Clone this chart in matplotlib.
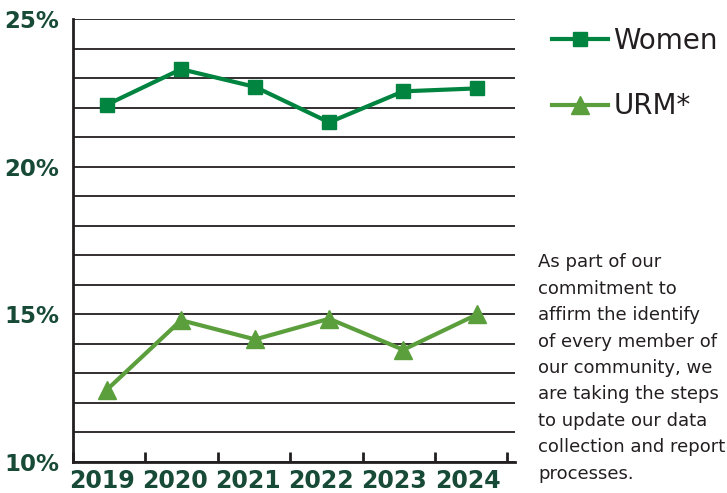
import matplotlib.pyplot as plt
from matplotlib.ticker import MultipleLocator, FixedLocator

years = ['2019', '2020', '2021', '2022', '2023', '2024']
women = [22.1, 23.3, 22.7, 21.5, 22.55, 22.65]
urm = [12.45, 14.8, 14.15, 14.85, 13.8, 15.0]
y_labels = ['10%', '15%', '20%', '25%']
note = ("As part of our\ncommitment to\naffirm the identify\nof every member of\n"
        "our community, we\nare taking the steps\nto update our data\n"
        "collection and report\nprocesses.")

women_color = '#00843f'
urm_color = '#5b9f3c'
label_color = '#174a37'

fig = plt.figure(figsize=(7.27, 4.93), dpi=100)
ax = fig.add_axes([0.1004, 0.0629, 0.6074, 0.8986])

# points sit a bit off the tick centres in the original
xpos = [0.47 + i * 1.023 for i in range(len(years))]
lpos = [0.4 + i * 1.01 for i in range(len(years))]
ax.plot(xpos, women, color=women_color, lw=3, marker='s', ms=10, label='Women')
ax.plot(xpos, urm, color=urm_color, lw=3, marker='^', ms=13, label='URM*')

ax.set_xlim(0, 6.1)
ax.set_ylim(10, 25)

# gridlines every 1%
ax.yaxis.set_major_locator(FixedLocator([10, 15, 20, 25]))
ax.yaxis.set_minor_locator(MultipleLocator(1))
ax.set_yticklabels(y_labels)
ax.grid(axis='y', which='both', color='#231f20', lw=1.3)
ax.set_axisbelow(True)
ax.tick_params(axis='y', which='both', length=0, pad=10,
               labelsize=16.5, labelcolor=label_color)
for t in ax.get_yticklabels():
    t.set_fontweight('bold')

# x: ticks at boundaries, labels in between
ax.xaxis.set_major_locator(MultipleLocator(1))
ax.xaxis.set_minor_locator(FixedLocator(lpos))
ax.set_xticklabels([], minor=False)
ax.set_xticklabels(years, minor=True)
ax.tick_params(axis='x', which='major', direction='in', length=7, width=2, color='#231f20')
ax.tick_params(axis='x', which='minor', length=0, pad=5,
               labelsize=17, labelcolor=label_color)
for t in ax.get_xticklabels(minor=True):
    t.set_fontweight('bold')

for s in ['top', 'right']:
    ax.spines[s].set_visible(False)
for s in ['left', 'bottom']:
    ax.spines[s].set_color('#231f20')
    ax.spines[s].set_linewidth(2)

leg = ax.legend(loc='upper left', bbox_to_anchor=(1.06, 1.007), frameon=False,
                fontsize=20, handlelength=2.0, handletextpad=0.2, labelspacing=1.35,
                borderaxespad=0)
for t in leg.get_texts():
    t.set_color('#231f20')

fig.text(0.74, 0.486, note, fontsize=13, color='#231f20', va='top', ha='left',
         linespacing=1.6)

plt.savefig('out.png', dpi=100)
plt.close()
